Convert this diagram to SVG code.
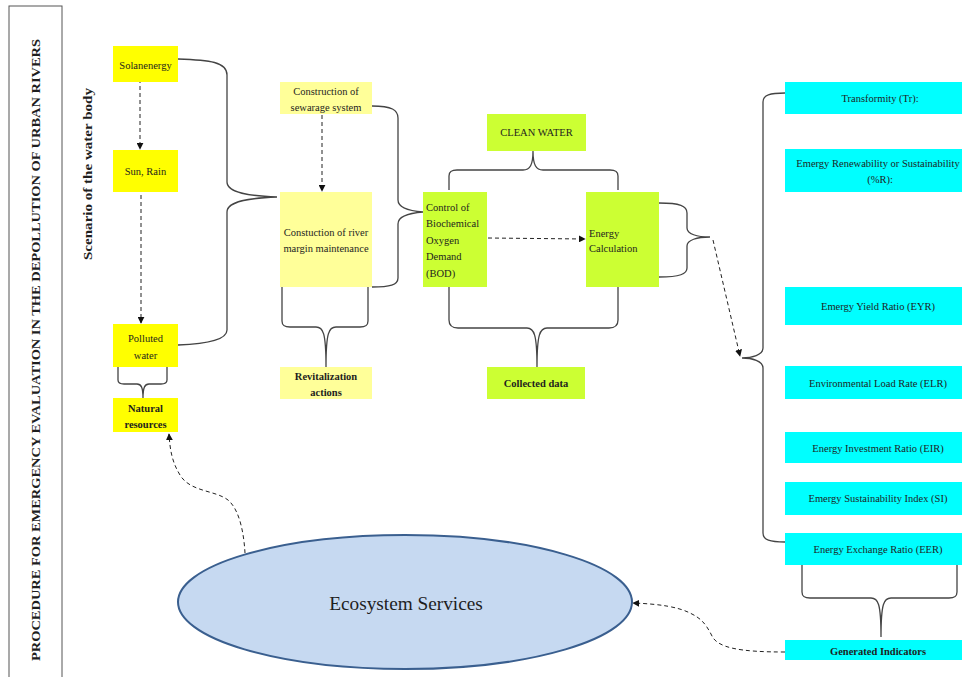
<svg xmlns="http://www.w3.org/2000/svg" width="962" height="677" viewBox="0 0 962 677">
<defs>
<marker id="ah" viewBox="0 0 10 10" refX="9" refY="5" markerWidth="7" markerHeight="7" orient="auto-start-reverse" markerUnits="userSpaceOnUse">
<path d="M0,0 L10,5 L0,10 z" fill="#111"/>
</marker>
<style>
text{font-family:'Liberation Serif','DejaVu Serif',serif;fill:#1e1e1e;font-size:10.5px}
.b{font-weight:bold}
.c{text-anchor:middle}
.big{font-size:19.3px}
.ttl{font-size:12.5px}
.y{fill:#FFFF00}
.ly{fill:#FFFF99}
.g{fill:#CCFF33}
.cy{fill:#00FFFF}
.br{fill:none;stroke:#444;stroke-width:1.3}
.da{fill:none;stroke:#222;stroke-width:1;stroke-dasharray:4,3}
</style>
</defs>
<rect width="962" height="677" fill="#fff"/>

<g id="title">
<rect x="9" y="6" width="53" height="680" fill="#fff" stroke="#555" stroke-width="1"/>
<text class="b c ttl" transform="translate(40,350) rotate(-90)" textLength="622" lengthAdjust="spacingAndGlyphs">PROCEDURE FOR EMERGENCY EVALUATION IN THE DEPOLLUTION OF URBAN RIVERS</text>
</g>
<g id="scenario">
<text class="b c ttl" transform="translate(92,174) rotate(-90)" textLength="172" lengthAdjust="spacingAndGlyphs">Scenario of the water body</text>
</g>

<g id="connectors">
<path class="br" d="M178,59 C210,60 227,62 227,75 L227,182 C227,193 250,196 277,197 C250,198 227,201 227,212 L227,330 C227,340 205,344 178,345"/>
<path class="br" d="M118,367 L118,380 C118,383 120,384 124,384 L137,384 C141,384 143,387 143,398 M167,367 L167,380 C167,383 165,384 161,384 L149,384 C145,384 143,387 143,398"/>
<path class="br" d="M282,287 L282,321 C282,326 285,327 290,327 L316,327 C323,327 326,332 326,367 M368,287 L368,321 C368,326 365,327 360,327 L336,327 C329,327 326,332 326,367"/>
<path class="br" d="M372,106 C392,106 398,110 398,118 L398,200 C398,208 410,211 423,212 C410,213 398,216 398,224 L398,278 C398,285 390,287 372,287"/>
<path class="br" d="M449,190 L449,176 C449,171 452,170 457,170 L523,170 C530,170 533,165 533,151 M618,190 L618,176 C618,171 615,170 610,170 L543,170 C536,170 533,165 533,151"/>
<path class="br" d="M449,287 L449,320 C449,326 452,328 458,328 L527,328 C534,328 537,334 537,367 M618,287 L618,320 C618,326 615,328 609,328 L547,328 C540,328 537,334 537,367"/>
<path class="br" d="M659,203 C680,203 687,206 687,213 L687,228 C687,234 697,237 710,237 C697,237 687,240 687,246 L687,268 C687,274 680,277 659,277"/>
<path class="br" d="M785,93 C770,93 763,95 763,102 L763,348 C763,355 752,358 742,358 C752,358 763,361 763,368 L763,533 C763,540 770,542 785,542"/>
<path class="br" d="M802,565 L802,592 C802,597 805,598 810,598 L871,598 C878,598 881,603 881,637 M957,565 L957,592 C957,597 954,598 949,598 L891,598 C884,598 881,603 881,637"/>

<path class="da" d="M140,72 L140,149" marker-end="url(#ah)"/>
<path class="da" d="M141,195 L141,323" marker-end="url(#ah)"/>
<path class="da" d="M322,115 L322,191" marker-end="url(#ah)"/>
<path class="da" d="M488,238 L585,239" marker-end="url(#ah)"/>
<path class="da" d="M713,240 L740,356" marker-end="url(#ah)"/>
<path class="da" d="M785,652 C740,652 718,648 712,636 C705,622 700,618 690,613 C678,607 660,604 633,603" marker-end="url(#ah)"/>
<path class="da" d="M245,553 C244,535 240,510 228,500 C215,490 190,492 180,475 C172,462 170,450 169,434" marker-end="url(#ah)"/>
</g>

<g id="solan">
<rect class="y" x="113" y="46" width="65" height="36"/>
<text class="c" x="145.5" y="69">Solanenergy</text>
</g>
<g id="sunrain">
<rect class="y" x="113" y="150" width="65" height="42"/>
<text class="c" x="145.5" y="175">Sun, Rain</text>
</g>
<g id="polluted">
<rect class="y" x="113" y="324" width="65" height="43"/>
<text class="c" x="145.5" y="342">Polluted</text>
<text class="c" x="145.5" y="359">water</text>
</g>
<g id="natural">
<rect class="y" x="113" y="398" width="65" height="34"/>
<text class="b c" x="145.5" y="412">Natural</text>
<text class="b c" x="145.5" y="428">resources</text>
</g>

<g id="sewarage">
<rect class="ly" x="280" y="82" width="92" height="32"/>
<text class="c" x="326" y="95">Construction of</text>
<text class="c" x="326" y="111">sewarage system</text>
</g>
<g id="margin">
<rect class="ly" x="280" y="192" width="92" height="95"/>
<text class="c" x="326" y="236">Constuction of river</text>
<text class="c" x="326" y="252">margin maintenance</text>
</g>
<g id="revital">
<rect class="ly" x="280" y="367" width="92" height="32"/>
<text class="b c" x="326" y="380">Revitalization</text>
<text class="b c" x="326" y="396">actions</text>
</g>

<g id="cleanwater">
<rect class="g" x="487" y="114" width="99" height="37"/>
<text class="c" x="536.5" y="136">CLEAN WATER</text>
</g>
<g id="bod">
<rect class="g" x="423" y="192" width="64" height="95"/>
<text x="426" y="211">Control of</text>
<text x="426" y="227">Biochemical</text>
<text x="426" y="244">Oxygen</text>
<text x="426" y="260">Demand</text>
<text x="426" y="277">(BOD)</text>
</g>
<g id="energycalc">
<rect class="g" x="586" y="192" width="73" height="95"/>
<text x="589" y="237">Energy</text>
<text x="589" y="252">Calculation</text>
</g>
<g id="collected">
<rect class="g" x="487" y="367" width="98" height="32"/>
<text class="b c" x="536" y="387">Collected data</text>
</g>

<g id="tr">
<rect class="cy" x="785" y="82" width="190" height="32"/>
<text class="c" x="880" y="102">Transformity (Tr):</text>
</g>
<g id="r">
<rect class="cy" x="785" y="149" width="190" height="43"/>
<text class="c" x="878" y="167">Emergy Renewability or Sustainability</text>
<text class="c" x="880" y="183">(%R):</text>
</g>
<g id="eyr">
<rect class="cy" x="785" y="287" width="190" height="38"/>
<text class="c" x="878" y="310">Emergy Yield Ratio (EYR)</text>
</g>
<g id="elr">
<rect class="cy" x="785" y="366" width="190" height="33"/>
<text class="c" x="878" y="387">Environmental Load Rate (ELR)</text>
</g>
<g id="eir">
<rect class="cy" x="785" y="432" width="190" height="31"/>
<text class="c" x="878" y="452">Energy Investment Ratio (EIR)</text>
</g>
<g id="si">
<rect class="cy" x="785" y="482" width="190" height="33"/>
<text class="c" x="878" y="502">Emergy Sustainability Index (SI)</text>
</g>
<g id="eer">
<rect class="cy" x="785" y="533" width="190" height="32"/>
<text class="c" x="878" y="553">Energy Exchange Ratio (EER)</text>
</g>
<g id="generated">
<rect class="cy" x="785" y="640" width="190" height="20"/>
<text class="b c" x="878" y="655">Generated Indicators</text>
</g>

<g id="ecosystem">
<ellipse cx="405" cy="602" rx="227" ry="67" fill="#C6D9F1" stroke="#3A5F8F" stroke-width="2"/>
<text class="c big" x="406" y="610">Ecosystem Services</text>
</g>
</svg>
